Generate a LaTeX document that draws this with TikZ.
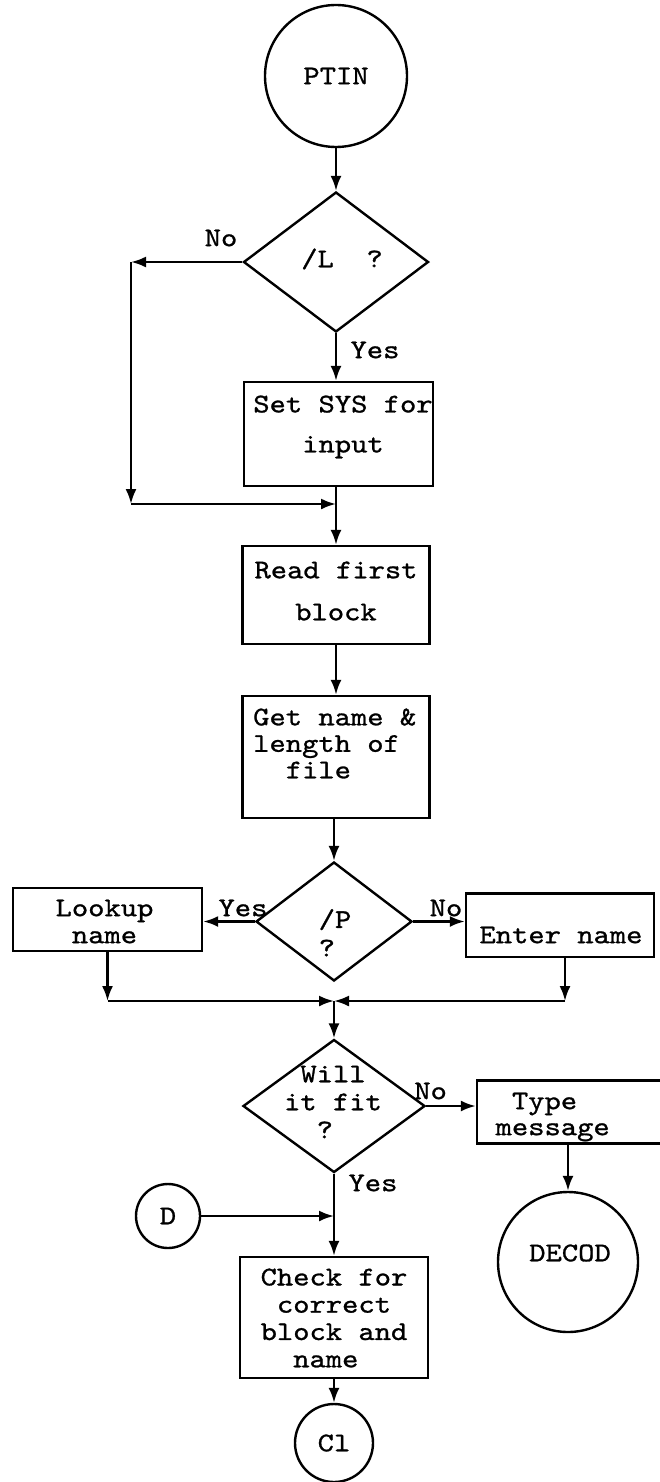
\documentclass[tikz,border=0pt]{standalone}
\usepackage{fontspec}
% slab-serif typewriter face, widened to the 16.3pt pitch of the chart lettering
\newfontfamily\flowmono[FakeStretch=1.15,FakeBold=1.0]{lmmono10-regular.otf}
\usetikzlibrary{shapes.geometric,arrows.meta}
\begin{document}
\begin{tikzpicture}[x=1pt,y=-1pt,
  line width=2.4pt,
  every node/.style={inner sep=0pt},
  procbox/.style={draw, rectangle, line width=2.4pt},
  decision/.style={draw, diamond, line width=2.4pt},
  terminal/.style={draw, circle, line width=2.4pt},
  lbl/.style={font=\flowmono\fontsize{27pt}{27pt}\selectfont},
  txt/.style={font=\flowmono\fontsize{27pt}{#1}\selectfont, align=center},
  txt/.default=27pt,
  txtl/.style={font=\flowmono\fontsize{27pt}{#1}\selectfont, align=left, anchor=west},
  txtl/.default=27pt,
  arr/.style={-{Latex[length=15pt,width=11pt]}},
]
\useasboundingbox (0,0) rectangle (659,1482);

% ---------- upper column ----------
\node[terminal, minimum size=142pt, lbl] (ptin) at (336,76) {PTIN};

\node[decision, minimum width=185pt, minimum height=140pt] (dL) at (336,262) {};
\node[txt] (dLt) at (342,259) {/L\ \ ?};
\node[lbl] (noL) at (221,238) {No};
\node[lbl] (yesL) at (375,350) {Yes};

\node[procbox, minimum width=189pt, minimum height=104pt] (setsys) at (338.5,434) {};
\node[txt=40pt] (setsysT) at (343,427) {Set SYS for\\input};

\coordinate (bypassTop) at (131,262);
\coordinate (bypassBot) at (131,504);
\coordinate (joinA) at (336,504);

\node[procbox, minimum width=187pt, minimum height=98pt] (read) at (336,595) {};
\node[txt=42pt] (readT) at (336,591) {Read first\\block};

\node[procbox, minimum width=187pt, minimum height=122pt] (getname) at (336,757) {};
\node[txtl=26.5pt] (getnameT) at (252,743.5) {Get name \&\\length of\\\hphantom{xx}file};

% ---------- /P decision ----------
\node[decision, minimum width=156pt, minimum height=119pt] (dP) at (334,921.5) {};
\node[txtl=28.5pt] (dPt) at (317.5,932.75) {/P\\?};
\node[lbl] (yesP) at (243,908) {Yes};
\node[lbl] (noP) at (446,908) {No};

\node[procbox, minimum width=189pt, minimum height=63pt] (lookup) at (107.5,919.5) {};
\node[txt] (lookupT) at (104.5,921.5) {Lookup\\name};

\node[procbox, minimum width=188pt, minimum height=63.5pt] (enter) at (560,925.25) {};
\node[lbl] (enterT) at (561,935) {Enter name};

\coordinate (mergeL) at (107.5,1001);
\coordinate (mergeR) at (565,1001);
\coordinate (joinB) at (334,1001);

% ---------- fit decision ----------
\node[decision, minimum width=182pt, minimum height=133pt] (dW) at (334,1106) {};
\node[txt=28pt] (dWt) at (333,1102) {Will\\it fit\\?\hphantom{x}};
\node[lbl] (noW) at (430.6,1091) {No};
\node[lbl] (yesW) at (373,1183) {Yes};

\node[procbox, minimum width=240pt, minimum height=63pt] (type) at (597,1112) {};
\node[txt=26pt] (typeT) at (552.7,1117) {Type\hphantom{x}\\message};

\node[terminal, minimum size=140pt] (decod) at (568,1262) {};
\node[lbl] (decodT) at (570,1253) {DECOD};

\node[terminal, minimum size=64pt, lbl] (dcon) at (168,1216) {D};
\coordinate (joinC) at (334,1216);

\node[procbox, minimum width=188pt, minimum height=121pt] (check) at (334,1317.5) {};
\node[txt=27.3pt] (checkT) at (334,1318) {Check for\\correct\\block and\\name\hphantom{x}};

\node[terminal, minimum size=78pt, lbl] (cl) at (334,1443) {Cl};

% ---------- connectors ----------
\draw[arr] (ptin) -- (dL);
\draw[arr] (dL.west) -- (bypassTop);
\draw[arr] (bypassTop) -- (bypassBot);
\draw[arr] (bypassBot) -- (joinA);
\draw[arr] (dL.south) -- (dL.south |- setsys.north);
\draw (setsys.south -| joinA) -- (joinA);
\draw[arr] (joinA) -- (read.north);
\draw[arr] (read) -- (getname);
\draw[arr] (getname.south -| dP.north) -- (dP.north);

\draw[arr] (dP.west) -- (dP.west -| lookup.east);
\draw[arr] (dP.east) -- (dP.east -| enter.west);
\draw[arr] (lookup.south) -- (mergeL);
\draw[arr] (mergeL) -- (joinB);
\draw[arr] (enter.south -| mergeR) -- (mergeR);
\draw[arr] (mergeR) -- (joinB);
\draw[arr] (joinB) -- (dW.north);

\draw[arr] (dW.east) -- (dW.east -| type.west);
\draw[arr] (type.south -| decod.north) -- (decod.north);
\draw[arr] (dW.south) -- (check.north);
\draw[arr] (dcon.east) -- (joinC);
\draw[arr] (check) -- (cl);
\end{tikzpicture}
\end{document}
